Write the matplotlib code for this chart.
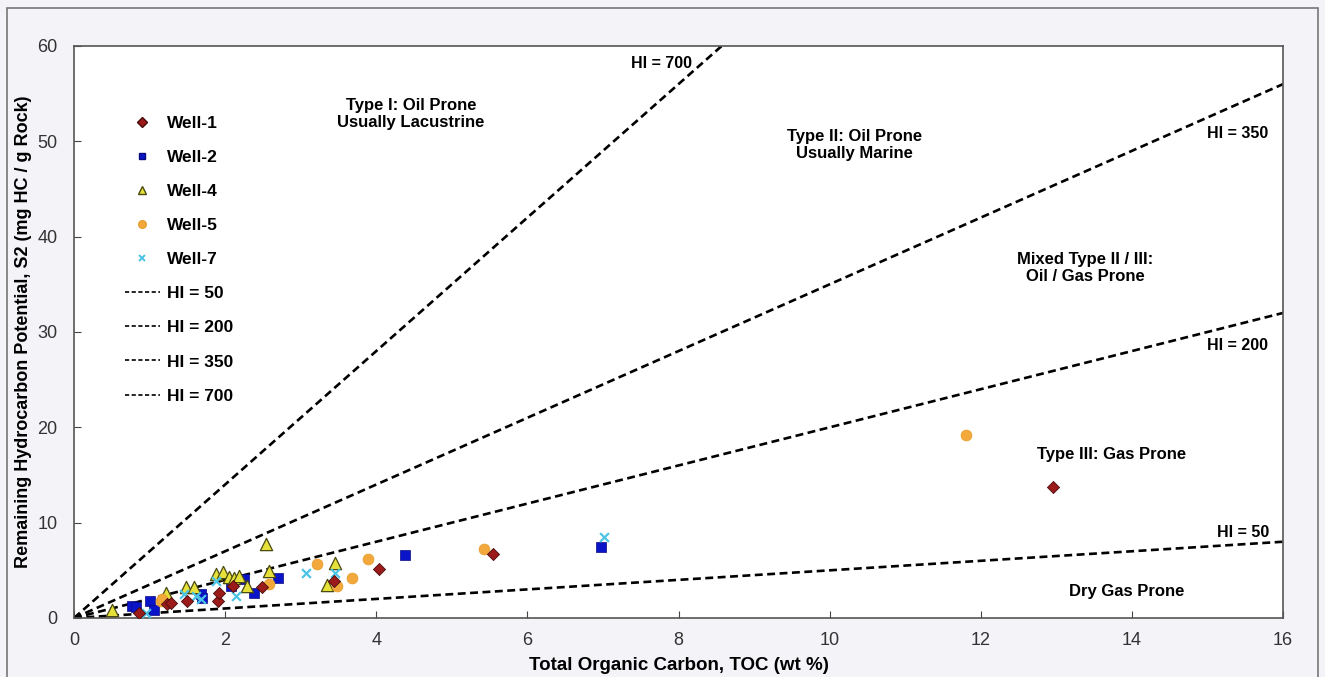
#!/usr/bin/env python3
"""Kerogen type plot: S2 vs TOC with HI reference lines."""
import numpy as np
import matplotlib
matplotlib.use("Agg")
import matplotlib.pyplot as plt
from matplotlib.lines import Line2D
from matplotlib.patches import Rectangle

plt.rcParams["font.family"] = ["Liberation Sans", "DejaVu Sans"]

# TOC (wt %), S2 (mg HC / g rock) per well
well1_toc = [0.86, 1.23, 1.28, 1.50, 1.90, 1.92, 2.10, 2.49, 3.44, 4.04, 5.54, 12.95]
well1_s2 = [0.5, 1.5, 1.6, 1.8, 1.8, 2.6, 3.4, 3.2, 3.9, 5.1, 6.7, 13.7]
well2_toc = [0.77, 0.82, 1.00, 1.06, 1.68, 1.70, 2.08, 2.25, 2.38, 2.70, 4.38, 6.97]
well2_s2 = [1.3, 1.2, 1.8, 0.8, 2.5, 2.1, 3.4, 4.1, 2.6, 4.2, 6.6, 7.4]
well4_toc = [0.50, 1.22, 1.48, 1.59, 1.88, 1.97, 2.05, 2.12, 2.18, 2.29, 2.54, 2.58, 3.35, 3.46]
well4_s2 = [0.8, 2.6, 3.2, 3.2, 4.6, 4.8, 4.3, 4.2, 4.4, 3.4, 7.8, 4.9, 3.5, 5.8]
well5_toc = [1.15, 1.17, 2.58, 3.22, 3.48, 3.68, 3.89, 5.42, 11.80]
well5_s2 = [1.8, 2.0, 3.6, 5.7, 3.4, 4.2, 6.2, 7.2, 19.2]
well7_toc = [0.95, 1.45, 1.61, 1.68, 1.88, 2.14, 3.07, 3.46, 7.02]
well7_s2 = [0.5, 2.5, 2.3, 2.0, 3.9, 2.3, 4.7, 4.7, 8.5]

hi_values = [50, 200, 350, 700]
hi_label_pos = {700: (7.77, 58.2), 350: (15.4, 50.8), 200: (15.4, 28.6), 50: (15.47, 9.0)}

regions = [
    ("Type I: Oil Prone\nUsually Lacustrine", 4.46, 52.9),
    ("Type II: Oil Prone\nUsually Marine", 10.33, 49.6),
    ("Mixed Type II / III:\nOil / Gas Prone", 13.38, 36.7),
    ("Type III: Gas Prone", 13.73, 17.2),
    ("Dry Gas Prone", 13.93, 2.8),
]

fig = plt.figure(figsize=(13.25, 6.77), dpi=100, facecolor="#f3f3f8")
fig.patches.append(Rectangle((7 / 1325, -0.05), 1311 / 1325, 1 - 8 / 677 + 0.05,
                             transform=fig.transFigure, fill=False, ec="#777777", lw=1.2))
ax = fig.add_axes([74 / 1325, 1 - 618 / 677, (1283 - 74) / 1325, (618 - 46) / 677])
ax.set_facecolor("white")

# HI lines
xs = np.array([0, 16])
for hi in hi_values:
    ax.plot(xs, xs * hi / 100, color="black", ls=(0, (3, 1.7)), lw=1.9, zorder=2)
    tx, ty = hi_label_pos[hi]
    ax.text(tx, ty, f"HI = {hi}", ha="center", va="center", fontsize=11.5, weight="bold")

ax.scatter(well1_toc, well1_s2, marker="D", s=38, c="#9b1b1b", edgecolors="#4a0a0a", lw=0.6, zorder=4)
ax.scatter(well2_toc, well2_s2, marker="s", s=46, c="#0a14c8", edgecolors="#0a0a80", lw=0.5, zorder=3)
ax.scatter(well4_toc, well4_s2, marker="^", s=78, c="#e6e03a", edgecolors="#4a4a10", lw=0.9, zorder=3)
ax.scatter(well5_toc, well5_s2, marker="o", s=60, c="#f2a83a", edgecolors="#e8a030", lw=0.6, zorder=3)
ax.scatter(well7_toc, well7_s2, marker="x", s=40, c="#4cc4e6", lw=1.6, zorder=3)

for txt, x, y in regions:
    ax.text(x, y, txt, ha="center", va="center", fontsize=12, weight="bold", linespacing=1.15)

handles = [
    Line2D([], [], ls="none", marker="D", ms=5, mfc="#9b1b1b", mec="#4a0a0a"),
    Line2D([], [], ls="none", marker="s", ms=5, mfc="#0a14c8", mec="#0a0a80"),
    Line2D([], [], ls="none", marker="^", ms=6, mfc="#e6e03a", mec="#4a4a10"),
    Line2D([], [], ls="none", marker="o", ms=5.5, mfc="#f2a83a", mec="#e8a030"),
    Line2D([], [], ls="none", marker="x", ms=5, mec="#4cc4e6", mew=1.4),
] + [Line2D([], [], color="black", ls=(0, (2.5, 1.5)), lw=1.2) for _ in hi_values]
labels = ["Well-1", "Well-2", "Well-4", "Well-5", "Well-7"] + [f"HI = {h}" for h in hi_values]
leg = ax.legend(handles, labels, loc="upper left", bbox_to_anchor=(0.035, 0.893), frameon=False,
                prop={"weight": "bold", "size": 12.5}, labelspacing=1.09, handlelength=2.0,
                handletextpad=0.4, borderpad=0)

ax.set_xlim(0, 16)
ax.set_ylim(0, 60)
ax.set_xticks(range(0, 17, 2))
ax.set_yticks(range(0, 61, 10))
ax.tick_params(direction="in", length=5, labelsize=13, labelcolor="#333333", color="#444444")
ax.tick_params(axis="x", pad=10)
ax.tick_params(axis="y", pad=12)
for sp in ax.spines.values():
    sp.set_color("#555555")
    sp.set_linewidth(1.2)
ax.set_xlabel("Total Organic Carbon, TOC (wt %)", fontsize=13.5, weight="bold", labelpad=6)
ax.set_ylabel("Remaining Hydrocarbon Potential, S2 (mg HC / g Rock)", fontsize=13, weight="bold", labelpad=4)

fig.savefig("out.png", dpi=100, facecolor=fig.get_facecolor())
